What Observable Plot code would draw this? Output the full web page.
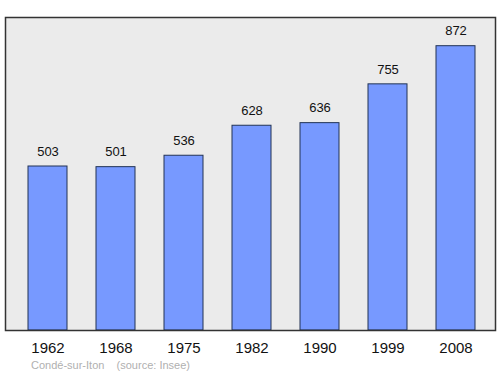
<!DOCTYPE html>
<html><head><meta charset="utf-8">
<script src="https://cdn.jsdelivr.net/npm/d3@7"></script>
<script src="https://cdn.jsdelivr.net/npm/@observablehq/plot@0.6"></script>
<style>
body{margin:0;background:#fff;font-family:"Liberation Sans",Arial,sans-serif;}
#wrap{position:relative;width:500px;height:374px;}
#cap{position:absolute;left:31px;top:359px;font-size:11px;color:#b0b0b0;white-space:pre;}
</style></head>
<body><div id="wrap"><div id="cap"></div></div>
<script>
const years = ["1962","1968","1975","1982","1990","1999","2008"];
const population = [503, 501, 536, 628, 636, 755, 872];
const captionText = "Condé-sur-Iton    (source: Insee)";

const data = years.map((y, i) => ({year: y, pop: population[i]}));

const chart = Plot.plot({
  width: 500,
  height: 374,
  marginTop: 17,
  marginBottom: 44,
  marginLeft: 5,
  marginRight: 5,
  style: {fontFamily: "'Liberation Sans', Arial, sans-serif", background: "transparent"},
  x: {domain: years, paddingInner: 0.43, paddingOuter: 0.215, insetLeft: 6.6, insetRight: 4.8},
  y: {domain: [0, 960], axis: null},
  marks: [
    Plot.frame({fill: "#ebebeb", stroke: "none"}),
    Plot.barY(data, {x: "year", y: "pop", fill: "#7799ff", stroke: "#223355", strokeWidth: 1}),
    Plot.text(data, {x: "year", y: "pop", text: d => String(d.pop), dy: -15, fontSize: 13, fill: "#111"}),
    Plot.frame({stroke: "#333", strokeWidth: 1.5}),
    Plot.axisX({tickSize: 0, tickPadding: 12, fontSize: 15, label: null, fill: "#111"})
  ]
});
document.getElementById("wrap").prepend(chart);
document.getElementById("cap").textContent = captionText;
</script>
</body></html>
